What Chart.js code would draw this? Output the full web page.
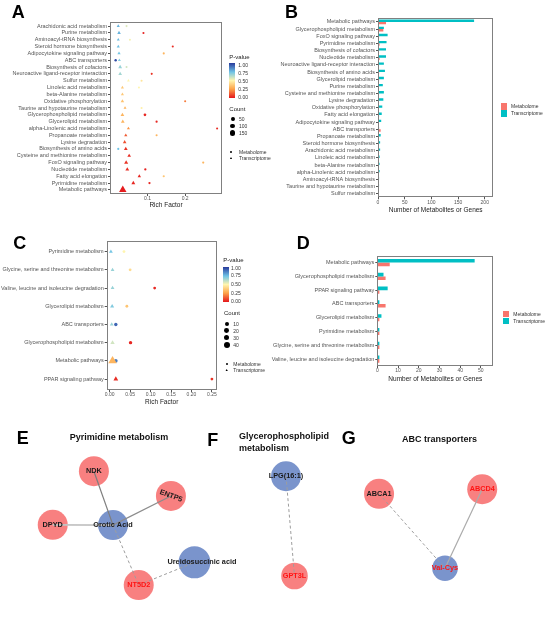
<!DOCTYPE html>
<html><head><meta charset="utf-8">
<script src="https://cdn.jsdelivr.net/npm/chart.js@4.4.0/dist/chart.umd.min.js"></script>
<style>
body{margin:0;background:#fff;}
#wrap{position:relative;width:550px;height:618px;overflow:hidden;font-family:"Liberation Sans",Arial,sans-serif;background:#fff;}
.cv{position:absolute;}
.t{position:absolute;white-space:nowrap;color:#222;}
.sym{position:absolute;}
</style></head>
<body><div id="wrap"></div>
<script>
// ---------------- DATA ----------------
const catsA = ["Arachidonic acid metabolism","Purine metabolism","Aminoacyl-tRNA biosynthesis","Steroid hormone biosynthesis","Adipocytokine signaling pathway","ABC transporters","Biosynthesis of cofactors","Neuroactive ligand-receptor interaction","Sulfur metabolism","Linoleic acid metabolism","beta-Alanine metabolism","Oxidative phosphorylation","Taurine and hypotaurine metabolism","Glycerophospholipid metabolism","Glycerolipid metabolism","alpha-Linolenic acid metabolism","Propanoate metabolism","Lysine degradation","Biosynthesis of amino acids","Cysteine and methionine metabolism","FoxO signaling pathway","Nucleotide metabolism","Fatty acid elongation","Pyrimidine metabolism","Metabolic pathways"];
const rfTransA = [0.022,0.024,0.022,0.022,0.024,0.025,0.027,0.027,0.049,0.033,0.033,0.033,0.040,0.033,0.034,0.049,0.042,0.039,0.042,0.051,0.043,0.046,0.078,0.062,0.034];
const pTransA  = [0.78,0.78,0.77,0.76,0.74,0.72,0.68,0.66,0.50,0.36,0.36,0.34,0.30,0.30,0.30,0.22,0.12,0.10,0.05,0.04,0.05,0.04,0.03,0.03,0.01];
const rfMetA   = [0.044,0.089,0.053,0.167,0.143,0.015,0.044,0.111,0.084,0.077,null,0.200,0.084,0.093,0.124,0.285,0.124,null,0.022,null,0.248,0.094,0.143,0.105,null];
const pMetA    = [0.56,0.02,0.52,0.04,0.30,0.97,0.58,0.05,0.45,0.50,null,0.18,0.48,0.03,0.03,0.04,0.30,null,0.75,null,0.30,0.02,0.35,0.03,null];

const catsB = ["Metabolic pathways","Glycerophospholipid metabolism","FoxO signaling pathway","Pyrimidine metabolism","Biosynthesis of cofactors","Nucleotide metabolism","Neuroactive ligand-receptor interaction","Biosynthesis of amino acids","Glycerolipid metabolism","Purine metabolism","Cysteine and methionine metabolism","Lysine degradation","Oxidative phosphorylation","Fatty acid elongation","Adipocytokine signaling pathway","ABC transporters","Propanoate metabolism","Steroid hormone biosynthesis","Arachidonic acid metabolism","Linoleic acid metabolism","beta-Alanine metabolism","alpha-Linolenic acid metabolism","Aminoacyl-tRNA biosynthesis","Taurine and hypotaurine metabolism","Sulfur metabolism"];
const transB = [180,11,18,16,15,15,11,13,11,9,11,10,8,7,6,2,5,4,4,3,3,3,2,2,1];
const metB   = [15,10,2,3,1,3,1,2,2,1,1,1,1,2,1,5,1,1,1,1,1,1,1,1,1];

const catsC = ["Pyrimidine metabolism","Glycine, serine and threonine metabolism","Valine, leucine and isoleucine degradation","Glycerolipid metabolism","ABC transporters","Glycerophospholipid metabolism","Metabolic pathways","PPAR signaling pathway"];
const rfTransC = [0.003,0.007,0.007,0.006,0.005,0.007,0.007,0.015];
const pTransC  = [0.74,0.68,0.68,0.72,0.68,0.58,0.30,0.04];
const rfMetC   = [0.035,0.050,0.110,0.042,0.015,0.051,0.015,0.250];
const pMetC    = [0.50,0.42,0.03,0.35,0.92,0.03,0.88,0.05];

const catsD = ["Metabolic pathways","Glycerophospholipid metabolism","PPAR signaling pathway","ABC transporters","Glycerolipid metabolism","Pyrimidine metabolism","Glycine, serine and threonine metabolism","Valine, leucine and isoleucine degradation"];
const transD = [47,3,5,1,2,1,1,1];
const metD   = [6,4,1,4,1,1,1,1];

const ticksA = [0.1,0.2];
const ticksB = [0,50,100,150,200];
const ticksC = [0,0.05,0.10,0.15,0.20,0.25];
const ticksD = [0,10,20,30,40,50];
const pLegend = [1.00,0.75,0.50,0.25,0.00];
const countLegendA = [50,100,150];
const countLegendC = [10,20,30,40];

// network (layout coordinates)
const netNodes = ["NDK","ENTP5","DPYD","Orotic Acid","NT5D2","Ureidosuccinic acid","LPG(16:1)","GPT3L","ABCA1","ABCD4","Val-Cys"];
const netX = [82.7,164.5,39,103,130.3,189.5,286.7,295.7,385.5,495,455.5];
const netY = [462,491.5,526,526.3,597.8,570.7,468,587,489,483.5,577.8];
const netKind = ["gene","gene","gene","metabolite","gene","metabolite","metabolite","gene","gene","gene","metabolite"];
const netHighlight = [0,0,0,0,1,0,0,1,0,1,1];
const edgeFrom = ["NDK","ENTP5","DPYD","Orotic Acid","NT5D2","LPG(16:1)","ABCA1","ABCD4"];
const edgeTo   = ["Orotic Acid","Orotic Acid","Orotic Acid","NT5D2","Ureidosuccinic acid","GPT3L","Val-Cys","Val-Cys"];
const edgeSign = ["pos","pos","pos","neg","neg","neg","neg","pos"];

// ---------------- SETUP ----------------
const FONT = '"Liberation Sans", Arial, sans-serif';
Chart.defaults.font.family = FONT;
Chart.defaults.animation = false;
Chart.defaults.responsive = false;
Chart.defaults.devicePixelRatio = 1;
Chart.defaults.plugins.legend.display = false;
Chart.defaults.plugins.tooltip.enabled = false;
Chart.defaults.events = [];

const wrap = document.getElementById('wrap');
function mkCanvas(x,y,w,h){const c=document.createElement('canvas');c.width=w;c.height=h;c.className='cv';c.style.left=x+'px';c.style.top=y+'px';c.style.width=w+'px';c.style.height=h+'px';wrap.appendChild(c);return c;}
function txt(s,x,cy,size,o={}){const d=document.createElement('div');d.className='t';d.textContent=s;const L=size*1.2;d.style.fontSize=size+'px';d.style.lineHeight=L+'px';d.style.left=x+'px';d.style.top=(cy-L/2-0.04*size)+'px';if(o.bold)d.style.fontWeight='bold';if(o.color)d.style.color=o.color;if(o.center)d.style.transform='translateX(-50%)';wrap.appendChild(d);return d;}
function box(x,y,w,h,style){const d=document.createElement('div');d.className='sym';d.style.left=x+'px';d.style.top=y+'px';d.style.width=w+'px';d.style.height=h+'px';Object.assign(d.style,style||{});wrap.appendChild(d);return d;}

const pStops=[[0,[228,22,28]],[0.25,[253,165,75]],[0.5,[255,245,175]],[0.75,[112,196,230]],[1,[40,58,156]]];
function pColor(p){for(let i=0;i<pStops.length-1;i++){const [a,ca]=pStops[i],[b,cb]=pStops[i+1];if(p<=b){const t=(p-a)/(b-a);return 'rgb('+ca.map((c,k)=>Math.round(c+(cb[k]-c)*t)).join(',')+')';}}return 'rgb(40,58,156)';}
const sizeA = c => 0.9 + 0.14*Math.sqrt(c);
const sizeC = c => 1.1 + 0.30*Math.sqrt(c);
const TRI = 1.55;

const boxPlugin={id:'box',afterDraw(chart){const {ctx,chartArea:a}=chart;ctx.save();ctx.strokeStyle='#808080';ctx.lineWidth=1;ctx.strokeRect(Math.round(a.left)+0.5,Math.round(a.top)+0.5,Math.round(a.right-a.left)-1,Math.round(a.bottom-a.top)-1);ctx.restore();}};

function dotChart(canvas,cats,rfT,pT,cntT,rfM,pM,cntM,cfg){
  const n=cats.length;
  const build=(rf,p,cnt,scale)=>{const pts=[],col=[],rad=[];rf.forEach((v,i)=>{if(v==null)return;pts.push({x:v,y:i+1});col.push(pColor(p[i]));rad.push(cfg.size(cnt[i])*scale);});return {pts,col,rad};};
  const M=build(rfM,pM,cntM,1), T=build(rfT,pT,cntT,TRI);
  return new Chart(canvas,{type:'scatter',
    data:{datasets:[
      {label:'Transcriptome',data:T.pts,pointStyle:'triangle',pointRadius:T.rad,backgroundColor:T.col,borderWidth:0,clip:false},
      {label:'Metabolome',data:M.pts,pointStyle:'circle',pointRadius:M.rad,backgroundColor:M.col,borderWidth:0,clip:false}]},
    options:{layout:{padding:{left:0,top:cfg.padTop,right:cfg.padRight,bottom:0}},
      scales:{
        y:{type:'linear',reverse:true,min:0.4,max:n+0.6,
          afterBuildTicks:s=>{s.ticks=cats.map((c,i)=>({value:i+1}));},
          ticks:{autoSkip:false,callback:v=>cats[v-1],font:{size:5.5},color:'#555',padding:1},
          grid:{drawOnChartArea:false,tickLength:2,color:'#555'},border:{display:false},
          afterFit:s=>{s.width=cfg.yw;}},
        x:{type:'linear',min:cfg.xmin,max:cfg.xmax,
          afterBuildTicks:s=>{s.ticks=cfg.xticks.map(v=>({value:v}));},
          ticks:{callback:cfg.xfmt,font:{size:5},color:'#555',padding:0,maxRotation:0,autoSkip:false},
          grid:{drawOnChartArea:false,tickLength:2,color:'#555'},border:{display:false},
          title:{display:true,text:'Rich Factor',font:{size:6.5},color:'#222',padding:{top:0,bottom:cfg.titlePad}},
          afterFit:s=>{s.height=cfg.xh;}}
      }},
    plugins:[boxPlugin]});
}

function barChart(canvas,cats,t,m,cfg){
  return new Chart(canvas,{type:'bar',
    data:{labels:cats,datasets:[
      {label:'Transcriptome',data:t,backgroundColor:'#00BFC4',categoryPercentage:cfg.cp,barPercentage:1},
      {label:'Metabolome',data:m,backgroundColor:'#F8766D',categoryPercentage:cfg.cp,barPercentage:1}]},
    options:{indexAxis:'y',layout:{padding:{left:0,top:cfg.padTop,right:cfg.padRight,bottom:0}},
      scales:{
        y:{type:'category',offset:true,grid:{offset:false,drawOnChartArea:false,tickLength:2,color:'#555'},border:{display:false},
          ticks:{autoSkip:false,font:{size:5.5},color:'#555',padding:1},afterFit:s=>{s.width=cfg.yw;}},
        x:{type:'linear',min:cfg.xmin,max:cfg.xmax,
          afterBuildTicks:s=>{s.ticks=cfg.xticks.map(v=>({value:v}));},
          ticks:{font:{size:5},color:'#555',padding:0,maxRotation:0,autoSkip:false},
          grid:{drawOnChartArea:false,tickLength:2,color:'#555'},border:{display:false},
          title:{display:true,text:'Number of Metabolites or Genes',font:{size:6.5},color:'#222',padding:{top:0,bottom:cfg.titlePad}},
          afterFit:s=>{s.height=cfg.xh;}}
      }},
    plugins:[boxPlugin]});
}

// ---------------- PANEL A ----------------
const cntTA = catsA.map(c=>transB[catsB.indexOf(c)]);
const cntMA = catsA.map(c=>metB[catsB.indexOf(c)]);
dotChart(mkCanvas(0,0,275,215),catsA,rfTransA,pTransA,cntTA,rfMetA,pMetA,cntMA,
  {yw:110,padTop:22,padRight:53,xh:21,titlePad:5.4,xmin:0,xmax:0.298,xticks:ticksA,xfmt:v=>v.toFixed(1),size:sizeA});

// ---------------- PANEL B ----------------
barChart(mkCanvas(265,0,285,215),catsB,transB,metB,
  {yw:113,padTop:18.3,padRight:56.7,xh:17.7,titlePad:1.1,xmin:0,xmax:216,xticks:ticksB,cp:0.66});

// ---------------- PANEL C ----------------
const cntTC = catsC.map(c=>transD[catsD.indexOf(c)]);
const cntMC = catsC.map(c=>metD[catsD.indexOf(c)]);
dotChart(mkCanvas(0,230,275,180),catsC,rfTransC,pTransC,cntTC,rfMetC,pMetC,cntMC,
  {yw:106.7,padTop:10.7,padRight:58.3,xh:20,titlePad:3.8,xmin:-0.0073,xmax:0.2617,xticks:ticksC,xfmt:v=>v.toFixed(2),size:sizeC});

// ---------------- PANEL D ----------------
barChart(mkCanvas(265,230,285,160),catsD,transD,metD,
  {yw:112.3,padTop:25.7,padRight:56.7,xh:24,titlePad:6.8,xmin:0,xmax:56,xticks:ticksD,cp:0.52});

// ---------------- NETWORKS E/F/G ----------------
const ni = n => netNodes.indexOf(n);
const edgeStyle = {0:{c:'#7d7d7d',w:1.2},1:{c:'#8c8c8c',w:1.2},2:{c:'#c4c4c4',w:1.6},7:{c:'#ababab',w:1.2}};
const nodeR = {"GPT3L":13.3,"Val-Cys":12.8,"Ureidosuccinic acid":16};
const labelDx = {"Ureidosuccinic acid":7.5};
const labelRot = {"ENTP5":20};
const edgeSets = edgeFrom.map((f,i)=>{const a=ni(f),b=ni(edgeTo[i]);const st=edgeStyle[i]||{c:'#9d9d9d',w:1};
  return {data:[{x:netX[a],y:netY[a]},{x:netX[b],y:netY[b]}],showLine:true,pointRadius:0,borderColor:st.c,borderWidth:st.w,
    borderDash:edgeSign[i]==='neg'?[3,2.5]:[],order:0,clip:false};});
const nodeSet = {data:netNodes.map((n,i)=>({x:netX[i],y:netY[i]})),pointRadius:netNodes.map(n=>nodeR[n]||15),
  backgroundColor:netKind.map(k=>k==='gene'?'rgba(247,118,118,0.93)':'rgba(112,140,200,0.93)'),borderWidth:0,order:1,clip:false};
const nodeLabelPlugin={id:'nodeLabels',afterDatasetsDraw(chart){const ctx=chart.ctx;const meta=chart.getDatasetMeta(chart.data.datasets.length-1);
  meta.data.forEach((el,i)=>{const n=netNodes[i];ctx.save();ctx.translate(el.x+(labelDx[n]||0),el.y);ctx.rotate((labelRot[n]||0)*Math.PI/180);
    ctx.font='bold 7.3px '+FONT;ctx.fillStyle=netHighlight[i]?'#ff1414':'#1a1a1a';ctx.textAlign='center';ctx.textBaseline='middle';ctx.fillText(n,0,0);ctx.restore();});}};
new Chart(mkCanvas(0,420,550,198),{type:'scatter',data:{datasets:[...edgeSets,nodeSet]},
  options:{layout:{padding:0},scales:{x:{type:'linear',display:false,min:0,max:550},y:{type:'linear',display:false,min:420,max:618,reverse:true}}},
  plugins:[nodeLabelPlugin]});

// ---------------- LEGENDS / LABELS ----------------
const grad='linear-gradient(to bottom, rgb(40,58,156) 0%, rgb(112,196,230) 26%, rgb(255,245,175) 50%, rgb(253,165,75) 74%, rgb(228,22,28) 100%)';
function pvalLegend(x,titleY,barTop,barH,labX,labYs){
  txt('P-value',x,titleY,6);
  box(x,barTop,5.8,barH,{background:grad});
  pLegend.forEach((v,i)=>txt(v.toFixed(2),labX,labYs[i],5,{color:'#333'}));
}
function countLegend(x,titleY,dotX,dotYs,labX,vals,fn){
  txt('Count',x,titleY,6);
  vals.forEach((v,i)=>{const r=fn(v);box(dotX-r,dotYs[i]-r,2*r,2*r,{background:'#000',borderRadius:'50%'});txt(String(v),labX,dotYs[i],5,{color:'#333'});});
}
function shapeLegend(symX,y1,y2,labX){
  box(symX-1,y1-1,2,2,{background:'#000',borderRadius:'50%'});
  box(symX-1.3,y2-1.2,2.6,2.2,{background:'#000',clipPath:'polygon(50% 0,100% 100%,0 100%)'});
  txt('Metabolome',labX,y1,5,{color:'#333'});txt('Transcriptome',labX,y2,5,{color:'#333'});
}
pvalLegend(229.3,58.3,63.3,35,238.3,[65.3,73,81,89.3,97.3]);
countLegend(229.3,110,232.7,[119,126,133],239,countLegendA,sizeA);
shapeLegend(231,151.7,158.3,239);

pvalLegend(223.3,261,266.7,35.6,231,[267.7,275.3,283.7,292.7,301]);
countLegend(224,314,226.7,[323.7,330.7,337.7,344.7],233.3,countLegendC,sizeC);
shapeLegend(226.7,363.7,370.3,233.3);

function barLegend(x,y,labX){box(x,y,6.6,6.3,{background:'#F8766D'});box(x,y+7,6.6,6.3,{background:'#00BFC4'});
  txt('Metabolome',labX,y+3.2,5,{color:'#333'});txt('Transcriptome',labX,y+10.2,5,{color:'#333'});}
barLegend(500.7,103.3,511);
barLegend(502.7,311,513.3);

// panel letters
[['A',11.7,13.2],['B',285,13.2],['C',13.3,244.2],['D',296.7,244.2],['E',16.7,439.5],['F',207.3,441.5],['G',341.7,439.5]]
  .forEach(([s,x,y])=>txt(s,x,y,18,{bold:true,color:'#000'}));
// network titles
txt('Pyrimidine metabolism',119,437.7,9,{bold:true,center:true,color:'#111'});
txt('Glycerophospholipid',239,436.7,9,{bold:true,color:'#111'});
txt('metabolism',239,448.3,9,{bold:true,color:'#111'});
txt('ABC transporters',439.5,439.7,9,{bold:true,center:true,color:'#111'});
</script></body></html>
